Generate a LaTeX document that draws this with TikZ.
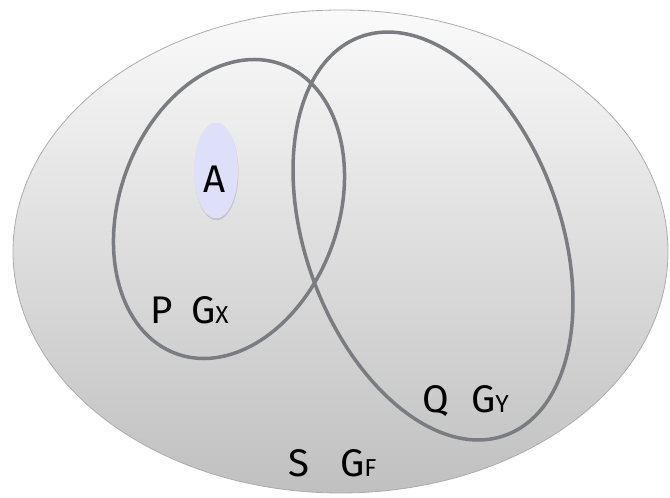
\documentclass[tikz,border=0pt]{standalone}
\usepackage{fontspec}
\setmainfont{Fira Sans}
\usetikzlibrary{shadows}
\definecolor{bgtop}{RGB}{250,250,250}
\definecolor{bgbot}{RGB}{192,192,192}
\definecolor{bgedge}{RGB}{172,172,172}
\definecolor{setline}{RGB}{122,124,130}
\definecolor{afill}{RGB}{222,224,250}
\tikzset{
  universe/.style={draw=bgedge, line width=0.8pt, top color=bgtop, bottom color=bgbot},
  setring/.style={draw=setline, line width=3.5pt},
  lbl/.style={inner sep=0pt, font=\fontsize{38.5}{38.5}\selectfont, text=black}
}
\newcommand{\subl}[1]{{\fontsize{24.5}{24.5}\selectfont #1}}
\begin{document}
\begin{tikzpicture}[x=1pt,y=1pt]
\useasboundingbox (0,0) rectangle (670,498);
% universe S
\path[universe] (340.5,246.5) ellipse [x radius=327.5, y radius=241.5];
% set P
\draw[setring, rotate around={-20:(229,289)}] (229,289) ellipse [x radius=109.4, y radius=154];
% set Q
\draw[setring, rotate around={20:(433,262)}] (433,262) ellipse [x radius=127.4, y radius=212];
% A
\fill[afill, drop shadow={opacity=0.3, shadow xshift=0.5pt, shadow yshift=-1.8pt}] (216,327.5) ellipse [x radius=22, y radius=48];
\node[lbl, anchor=base] (a) at (215,305) {A};
% labels
\node[lbl, anchor=base west] (p) at (150,174) {P};
\node[lbl, anchor=base west] (gx) at (191,174) {G\subl{X}};
\node[lbl, anchor=base west] (q) at (422,85) {Q};
\node[lbl, anchor=base west] (gy) at (471,85) {G\subl{Y}};
\node[lbl, anchor=base west] (s) at (288,21) {S};
\node[lbl, anchor=base west] (gf) at (340,21) {G\subl{F}};
\end{tikzpicture}
\end{document}
